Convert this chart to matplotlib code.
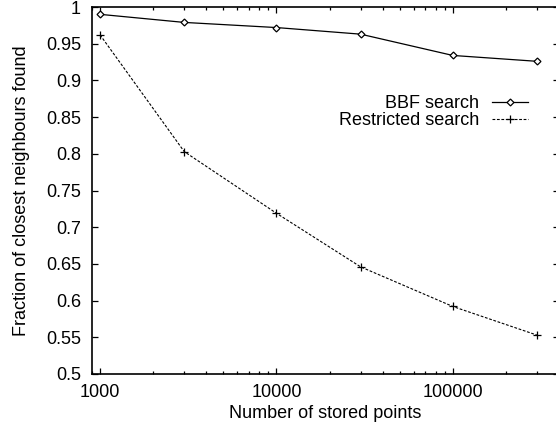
import matplotlib
matplotlib.use("Agg")
import matplotlib.pyplot as plt
from matplotlib.ticker import FixedLocator, FuncFormatter, LogLocator, NullFormatter

plt.rcParams['font.family'] = ['Liberation Sans', 'DejaVu Sans']

stored_points = [1000, 3000, 10000, 30000, 100000, 300000]
bbf_search = [0.990, 0.979, 0.972, 0.963, 0.934, 0.926]
restricted_search = [0.962, 0.803, 0.719, 0.646, 0.592, 0.553]
y_ticks = [0.5, 0.55, 0.6, 0.65, 0.7, 0.75, 0.8, 0.85, 0.9, 0.95, 1.0]
x_ticks = [1000, 10000, 100000]

FS = 13

fig = plt.figure(figsize=(5.56, 4.33), dpi=100)
ax = fig.add_axes([92/556, 59/433, (559-92)/556, (374-7)/433])

ax.plot(stored_points, bbf_search, color='black', linewidth=0.9, marker='D',
        markersize=3.5, markerfacecolor='white', markeredgecolor='black',
        markeredgewidth=0.9, label='BBF search')
ax.plot(stored_points, restricted_search, color='black', linewidth=0.8,
        linestyle=(0, (2.5, 1.5)), marker='+', markersize=6,
        markeredgewidth=0.9, label='Restricted search')

ax.set_xscale('log')
ax.set_xlim(900, 400000)
ax.set_ylim(0.5, 1.0)
ax.xaxis.set_major_locator(FixedLocator(x_ticks))
ax.xaxis.set_major_formatter(FuncFormatter(lambda v, p: '%d' % v))
ax.xaxis.set_minor_locator(LogLocator(base=10, subs=range(2, 10)))
ax.xaxis.set_minor_formatter(NullFormatter())
ax.yaxis.set_major_locator(FixedLocator(y_ticks))
ax.yaxis.set_major_formatter(FuncFormatter(lambda v, p: '%g' % round(v, 2)))

ax.tick_params(which='both', direction='in', top=True, right=True,
               labelsize=FS, width=0.9, colors='black')
ax.tick_params(which='major', length=4)
ax.tick_params(which='minor', length=2.2)
ax.tick_params(axis='y', pad=8)
ax.tick_params(axis='x', pad=7)
for s in ax.spines.values():
    s.set_linewidth(1.2)

ax.set_xlabel('Number of stored points', fontsize=FS, labelpad=3)
ax.set_ylabel('Fraction of closest neighbours found', fontsize=FS, labelpad=11)

ax.legend(loc='upper right', bbox_to_anchor=(528/556, 1 - 95/433),
          bbox_transform=fig.transFigure, frameon=False, markerfirst=False,
          fontsize=FS, handlelength=2.0, handletextpad=0.7,
          labelspacing=0.0, borderpad=0, borderaxespad=0)

fig.savefig('out.png', dpi=100)
